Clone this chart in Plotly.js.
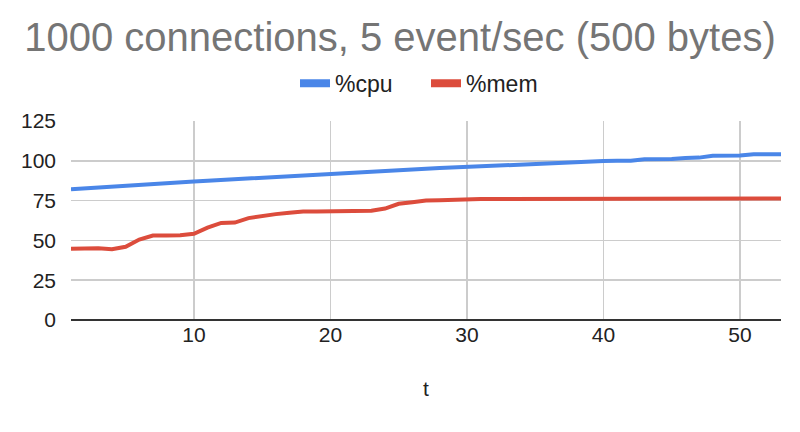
<!DOCTYPE html>
<html><head><meta charset="utf-8">
<script src="https://cdn.plot.ly/plotly-3.0.1.min.js"></script>
<style>html,body{margin:0;padding:0;background:#fff}#chart{width:800px;height:432px}</style>
</head><body><div id="chart"></div>
<script>
const t = [];
for (let i = 1; i <= 53; i++) t.push(i);
const cpu = [82.2,82.8,83.4,83.9,84.5,84.8,85.3,85.8,86.4,87.0,
  87.5,88.0,88.4,88.9,89.4,89.9,90.3,90.8,91.3,91.8,
  92.3,92.5,93.2,93.7,94.1,94.6,95.0,95.4,95.8,96.3,
  96.7,97.1,97.4,97.8,98.2,98.6,98.9,99.1,99.4,99.8,
  100.0,100.1,101.0,101.0,101.1,101.8,102.0,103.2,103.3,103.3,
  104.1,104.1,104.1];
const mem = [44.8,45.0,45.0,44.5,46.0,50.5,53.0,53.0,53.2,54.2,
  58.0,61.0,61.2,64.0,65.4,66.5,67.4,68.2,68.2,68.3,
  68.4,68.5,68.7,70.0,73.0,74.0,75.0,75.2,75.6,76.0,
  76.0,76.0,76.0,76.0,76.1,76.1,76.1,76.1,76.2,76.2,
  76.2,76.2,76.2,76.2,76.2,76.2,76.2,76.2,76.2,76.2,
  76.2,76.2,76.3];
const seriesNames = ['%cpu', '%mem'];
const seriesColors = ['#4a86e8', '#dc4c3c'];
const titleText = '1000 connections, 5 event/sec (500 bytes)';
const xTicks = [10, 20, 30, 40, 50];
const yTicks = [0, 25, 50, 75, 100, 125];

const font = 'Liberation Sans, Arial, sans-serif';
const data = [
  {x: t, y: cpu, name: seriesNames[0], type: 'scatter', mode: 'lines', showlegend: false,
   line: {color: seriesColors[0], width: 4}},
  {x: t, y: mem, name: seriesNames[1], type: 'scatter', mode: 'lines', showlegend: false,
   line: {color: seriesColors[1], width: 4}},
  // legend-only entries with thicker swatches
  {x: [null], y: [null], name: seriesNames[0], type: 'scatter', mode: 'lines',
   line: {color: seriesColors[0], width: 8}},
  {x: [null], y: [null], name: seriesNames[1], type: 'scatter', mode: 'lines',
   line: {color: seriesColors[1], width: 8}}
];
const layout = {
  width: 800, height: 432,
  margin: {l: 71, r: 19, t: 121, b: 112},
  paper_bgcolor: '#fff', plot_bgcolor: '#fff',
  font: {family: font, color: '#222', size: 21},
  title: {text: titleText, font: {family: font, size: 40, color: '#757575'},
    x: 0.5, xanchor: 'center', y: 1 - 37/432, yanchor: 'middle', yref: 'container'},
  showlegend: true,
  legend: {orientation: 'h', x: 0.5, xanchor: 'center', y: 1.19, yanchor: 'middle',
    font: {family: font, size: 23, color: '#222'}, itemwidth: 30, entrywidth: 86,
    tracegroupgap: 0},
  xaxis: {range: [1, 53], tickvals: xTicks, showgrid: true, gridcolor: '#cccccc', gridwidth: 1.5,
    zeroline: false, showline: false, ticks: '', ticklen: 0,
    tickfont: {family: font, size: 21, color: '#222'},
    title: {text: 't', font: {family: font, size: 21, color: '#222'}, standoff: 36},
    automargin: false, fixedrange: true},
  yaxis: {range: [0, 125], tickvals: yTicks, showgrid: true, gridcolor: '#cccccc', gridwidth: 1.5,
    zeroline: true, zerolinecolor: '#333333', zerolinewidth: 2, showline: false,
    ticks: '', ticklen: 0, ticklabelstandoff: 14,
    tickfont: {family: font, size: 21, color: '#222'}, automargin: false, fixedrange: true}
};
Plotly.newPlot('chart', data, layout, {displayModeBar: false, staticPlot: true});
</script>
</body></html>
